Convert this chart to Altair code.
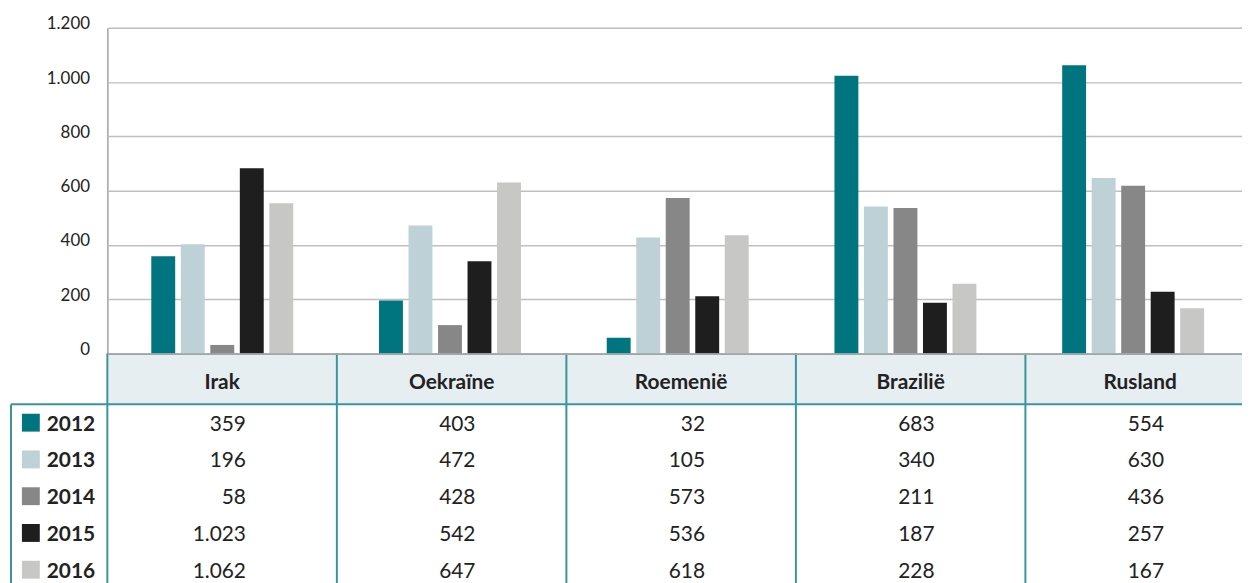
import altair as alt
import pandas as pd

# ---------------- data (as shown in the reference) ----------------
countries = ["Irak", "Oekraïne", "Roemenië", "Brazilië", "Rusland"]
years = ["2012", "2013", "2014", "2015", "2016"]

# table rows, one list per year, columns in country order
row_2012 = [359, 403, 32, 683, 554]
row_2013 = [196, 472, 105, 340, 630]
row_2014 = [58, 428, 573, 211, 436]
row_2015 = [1023, 542, 536, 187, 257]
row_2016 = [1062, 647, 618, 228, 167]

y_ticks = [0, 200, 400, 600, 800, 1000, 1200]
colors = ["#00747F", "#BDD1D7", "#878787", "#1E1E1E", "#C7C7C6"]

rows = [row_2012, row_2013, row_2014, row_2015, row_2016]

# bars: the chart groups the i-th table row under the i-th country
bars_df = pd.DataFrame(
    [
        {"country": c, "year": years[j], "value": rows[i][j]}
        for i, c in enumerate(countries)
        for j in range(len(years))
    ]
)
table_df = pd.DataFrame(
    [
        {"year": y, "country": c, "value": rows[i][j]}
        for i, y in enumerate(years)
        for j, c in enumerate(countries)
    ]
)
country_df = pd.DataFrame({"country": countries})
one_df = pd.DataFrame({"k": [0]})

# ---------------- style ----------------
FONT = "Lato"
TXT = "#222222"
TEAL_LINE = "#3A959B"
NL_FMT = "replace(format(datum.value, ','), ',', '.')"

color = alt.Color("year:N", scale=alt.Scale(domain=years, range=colors), legend=None)

bars = (
    alt.Chart(bars_df)
    .mark_bar()
    .encode(
        x=alt.X(
            "country:N",
            sort=countries,
            scale=alt.Scale(domain=countries, rangeMin=1, rangeMax=1147, paddingInner=0, paddingOuter=0),
            axis=None,
        ),
        xOffset=alt.XOffset(
            "year:N",
            sort=years,
            scale=alt.Scale(domain=years, range=[40.4, 188.9], paddingInner=0.19, paddingOuter=0.095),
        ),
        y=alt.Y(
            "value:Q",
            scale=alt.Scale(domain=[0, 1200], nice=False),
            axis=alt.Axis(
                values=y_ticks,
                labelExpr=NL_FMT,
                title=None,
                grid=True,
                gridColor="#BFBFBF",
                gridWidth=1.5,
                domainColor="#A6A6A6",
                domainWidth=1.5,
                ticks=False,
                tickSize=0,
                labelPadding=18,
                labelFontSize=17,
                labelFont=FONT,
                labelColor=TXT,
                labelOffset=-4,
            ),
        ),
        color=color,
    )
)

table_x_scale = alt.Scale(domain=countries, rangeMin=0, rangeMax=1155, paddingInner=0, paddingOuter=0)
table_x_axis = alt.Axis(
    orient="bottom",
    title=None,
    labelAngle=0,
    labelFont=FONT,
    labelFontWeight="bold",
    labelFontSize=21,
    labelColor=TXT,
    labelPadding=18,
    ticks=False,
    tickSize=0,
    domainColor="#9DA7AA",
    domainWidth=2,
    grid=False,
    zindex=1,
)
tx = alt.X("country:N", sort=countries, scale=table_x_scale, axis=table_x_axis)
tx0 = alt.X("country:N", sort=countries, scale=table_x_scale, axis=table_x_axis, bandPosition=0)
ty = alt.Y(
    "year:N",
    sort=years,
    scale=alt.Scale(domain=years, range=[379, 564], paddingInner=0, paddingOuter=0),
    axis=None,
)

header_fill = (
    alt.Chart(country_df)
    .mark_bar(color="#E7EEF2")
    .encode(x=tx, y=alt.value(329), y2=alt.value(379))
)
col_lines = (
    alt.Chart(country_df)
    .mark_rule(color=TEAL_LINE, strokeWidth=2)
    .encode(x=tx0, y=alt.value(328), y2=alt.value(600))
)
h_line = (
    alt.Chart(one_df)
    .mark_rule(color=TEAL_LINE, strokeWidth=2)
    .encode(x=alt.value(-97), x2=alt.value(1160), y=alt.value(379))
)
left_line = (
    alt.Chart(one_df)
    .mark_rule(color=TEAL_LINE, strokeWidth=2)
    .encode(x=alt.value(-97), y=alt.value(379), y2=alt.value(600))
)
values_text = (
    alt.Chart(table_df)
    .transform_calculate(label=NL_FMT)
    .mark_text(align="right", baseline="middle", dx=24, dy=2, fontSize=21, font=FONT, color=TXT)
    .encode(x=tx, y=ty, text="label:N")
)
squares = (
    alt.Chart(pd.DataFrame({"year": years}))
    .mark_square(size=324, opacity=1, filled=True)
    .encode(x=alt.value(-77), y=ty, color=color)
)
year_text = (
    alt.Chart(pd.DataFrame({"year": years}))
    .mark_text(align="left", baseline="middle", dy=2, fontSize=21, fontWeight="bold", font=FONT, color=TXT)
    .encode(x=alt.value(-61), y=ty, text="year:N")
)

table = alt.layer(header_fill, col_lines, h_line, left_line, values_text, squares, year_text)

chart = (
    alt.layer(bars, table)
    .resolve_scale(x="independent", y="independent")
    .resolve_axis(x="independent", y="independent")
    .properties(
        width=1142,
        height=328,
        autosize=alt.AutoSizeParams(type="none"),
        padding={"left": 100, "top": 18, "right": 0, "bottom": 229},
    )
    .configure_view(stroke=None)
    .configure(font=FONT)
)

chart.save("out.html", embed_options={"renderer": "svg", "actions": False})
